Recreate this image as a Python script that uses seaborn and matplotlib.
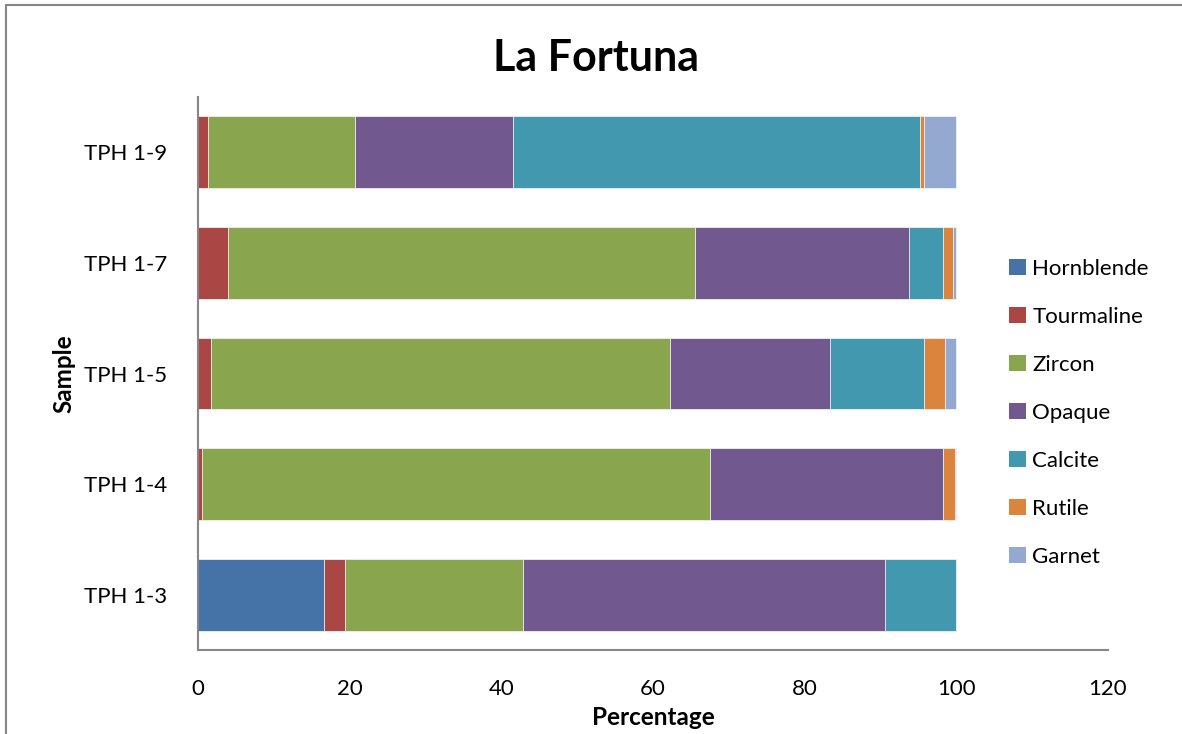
import matplotlib
matplotlib.use("Agg")
import matplotlib.pyplot as plt
import seaborn as sns
import pandas as pd
from matplotlib.patches import Patch
from matplotlib.lines import Line2D

samples = ["TPH 1-9", "TPH 1-7", "TPH 1-5", "TPH 1-4", "TPH 1-3"]
minerals = ["Hornblende", "Tourmaline", "Zircon", "Opaque", "Calcite", "Rutile", "Garnet"]

hornblende = [0.0, 0.0, 0.0, 0.0, 16.6]
tourmaline = [1.35, 3.9, 1.7, 0.5, 2.8]
zircon = [19.35, 61.6, 60.6, 67.0, 23.5]
opaque = [20.9, 28.3, 21.0, 30.8, 47.7]
calcite = [53.6, 4.5, 12.5, 0.0, 9.4]
rutile = [0.6, 1.2, 2.7, 1.5, 0.0]
garnet = [4.2, 0.5, 1.5, 0.2, 0.0]

colors = ["#4572A7", "#AA4643", "#89A54E", "#71588F", "#4198AF", "#DB843D", "#93A9CF"]

sns.set_theme(style="white")
plt.rcParams["font.family"] = ["Lato", "DejaVu Sans"]
plt.rcParams["text.color"] = "black"
plt.rcParams["axes.labelcolor"] = "black"

values = pd.DataFrame(
    dict(zip(minerals, [hornblende, tourmaline, zircon, opaque, calcite, rutile, garnet])),
    index=samples,
)
cum = values.cumsum(axis=1)
long = cum.reset_index(names="Sample").melt(id_vars="Sample", var_name="Mineral", value_name="End")

fig = plt.figure(figsize=(11.82, 7.34), dpi=100)
ax = fig.add_axes([198 / 1182, 1 - 650 / 734, (1108 - 198) / 1182, (650 - 97) / 734])

# stacked bars: draw cumulative totals from the outermost segment inwards
for mineral, color in reversed(list(zip(minerals, colors))):
    sub = long[long["Mineral"] == mineral]
    sns.barplot(data=sub, x="End", y="Sample", order=samples, color=color,
                width=0.65, saturation=1, edgecolor="#f2f2f2", linewidth=0.6, ax=ax)

ax.set_xlim(0, 120)
ax.set_xticks([0, 20, 40, 60, 80, 100, 120])
ax.set_ylim(len(samples) - 0.5, -0.5)
ax.tick_params(axis="both", length=0, labelsize=16, colors="black")
ax.tick_params(axis="x", pad=21)
ax.tick_params(axis="y", pad=22)
for s in ["top", "right"]:
    ax.spines[s].set_visible(False)
for s in ["left", "bottom"]:
    ax.spines[s].set_color("#868686")
    ax.spines[s].set_linewidth(1.5)

ax.set_xlabel("Percentage", fontsize=17.5, fontweight="bold", labelpad=5)
ax.set_ylabel("Sample", fontsize=17.5, fontweight="bold", labelpad=6)

fig.text(596 / 1182, 1 - 58 / 734, "La Fortuna", ha="center", va="center",
         fontsize=31, fontweight="bold", color="black")

handles = [Patch(facecolor=c, edgecolor="none") for c in colors]
fig.legend(handles, minerals, loc="upper left", bbox_to_anchor=(1000 / 1182, 1 - 250 / 734),
           frameon=False, fontsize=16, handlelength=0.75, handleheight=0.75,
           handletextpad=0.3, labelspacing=1.26, borderaxespad=0)

# chart frame
fig.add_artist(Line2D([6 / 1182, 1], [1 - 5 / 734, 1 - 5 / 734], color="#868686", lw=1.5))
fig.add_artist(Line2D([6 / 1182, 6 / 1182], [0, 1 - 5 / 734], color="#868686", lw=1.5))

fig.savefig("out.png", dpi=100, facecolor="white")
